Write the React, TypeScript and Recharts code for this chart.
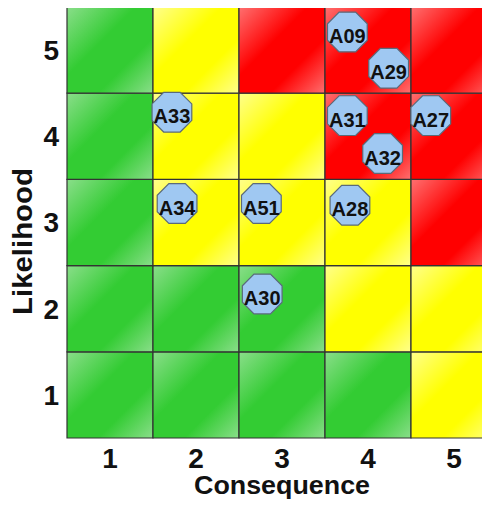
import React from "react";
import { Label, ReferenceArea, Scatter, ScatterChart, XAxis, YAxis } from "recharts";

const CONSEQUENCE_TICKS = [1, 2, 3, 4, 5];
const LIKELIHOOD_TICKS = [1, 2, 3, 4, 5];

// zone of each cell, consequence 1..5, one array per likelihood row
const ROW_L1 = ["green", "green", "green", "green", "yellow"];
const ROW_L2 = ["green", "green", "green", "yellow", "yellow"];
const ROW_L3 = ["green", "yellow", "yellow", "yellow", "red"];
const ROW_L4 = ["green", "yellow", "yellow", "red", "red"];
const ROW_L5 = ["green", "yellow", "red", "red", "red"];
const ZONE_ROWS = [ROW_L1, ROW_L2, ROW_L3, ROW_L4, ROW_L5];

const RISK_IDS = ["A09", "A29", "A31", "A27", "A32", "A28", "A51", "A33", "A34", "A30"];
const RISK_CONSEQUENCE = [3.76, 4.24, 3.76, 4.73, 4.17, 3.79, 2.76, 1.72, 1.78, 2.77];
const RISK_LIKELIHOOD = [5.21, 4.79, 4.24, 4.24, 3.8, 3.2, 3.22, 4.28, 3.22, 2.17];

const ZONE_COLORS: Record<string, [string, string]> = {
	green: ["#8ade8a", "#33cc33"],
	yellow: ["#ffff8c", "#ffff00"],
	red: ["#ff7070", "#ff0000"],
};

const FONT = "'Liberation Sans', Arial, sans-serif";

const risks = RISK_IDS.map((id, i) => ({
	id,
	x: RISK_CONSEQUENCE[i],
	y: RISK_LIKELIHOOD[i],
}));

function Octagon(props: any) {
	const { cx, cy, payload } = props;
	const r = 21.5;
	const pts: string[] = [];
	for (let k = 0; k < 8; k++) {
		const a = ((22.5 + k * 45) * Math.PI) / 180;
		pts.push(`${cx + r * Math.cos(a)},${cy + r * Math.sin(a)}`);
	}
	return (
		<g>
			<polygon points={pts.join(" ")} fill="#9fc8f2" stroke="#5a6a7a" strokeWidth={1.2} />
			<text
				x={cx}
				y={cy + 11}
				textAnchor="middle"
				fontFamily={FONT}
				fontWeight="bold"
				fontSize={20}
				fill="#111"
			>
				{payload.id}
			</text>
		</g>
	);
}

export default function App() {
	return (
		<div style={{ margin: -8, width: 490, height: 508, overflow: "hidden", background: "#fff" }}>
			<ScatterChart width={500} height={508} margin={{ top: 7, right: 3, bottom: 0, left: 0 }}>
				<defs>
					{Object.entries(ZONE_COLORS).map(([name, [light, dark]]) => (
						<linearGradient key={name} id={`zone-${name}`} x1="0" y1="0" x2="1" y2="1">
							<stop offset="0" stopColor={light} />
							<stop offset="0.4" stopColor={dark} />
							<stop offset="0.68" stopColor={dark} />
							<stop offset="1" stopColor={light} />
						</linearGradient>
					))}
				</defs>
				<XAxis
					type="number"
					dataKey="x"
					domain={[0.5, 5.5]}
					ticks={CONSEQUENCE_TICKS}
					axisLine={false}
					tickLine={false}
					tickSize={0}
					tickMargin={10}
					height={70}
					tick={{ fontSize: 28, fontWeight: "bold", fill: "#111", fontFamily: FONT }}
				>
					<Label
						content={(p: any) => {
							const vb = p.viewBox;
							return (
								<text
									x={vb.x + vb.width / 2}
									y={vb.y + 56}
									textAnchor="middle"
									fontFamily={FONT}
									fontWeight="bold"
									fontSize={25}
									fill="#111"
									textLength={176}
									lengthAdjust="spacingAndGlyphs"
								>
									Consequence
								</text>
							);
						}}
					/>
				</XAxis>
				<YAxis
					type="number"
					dataKey="y"
					domain={[0.5, 5.5]}
					ticks={LIKELIHOOD_TICKS}
					axisLine={false}
					tickLine={false}
					tickSize={0}
					tickMargin={8}
					width={67}
					tick={{ fontSize: 28, fontWeight: "bold", fill: "#111", fontFamily: FONT }}
				>
					<Label
						content={(p: any) => {
							const vb = p.viewBox;
							const cx = 32;
							const cy = vb.y + vb.height / 2 + 19;
							return (
								<text
									x={cx}
									y={cy}
									textAnchor="middle"
									transform={`rotate(-90, ${cx}, ${cy})`}
									fontFamily={FONT}
									fontWeight="bold"
									fontSize={27}
									fill="#111"
									textLength={147}
									lengthAdjust="spacingAndGlyphs"
								>
									Likelihood
								</text>
							);
						}}
					/>
				</YAxis>
				{ZONE_ROWS.map((row, li) =>
					row.map((zone, ci) => (
						<ReferenceArea
							key={`${li}-${ci}`}
							x1={CONSEQUENCE_TICKS[ci] - 0.5}
							x2={CONSEQUENCE_TICKS[ci] + 0.5}
							y1={LIKELIHOOD_TICKS[li] - 0.5}
							y2={LIKELIHOOD_TICKS[li] + 0.5}
							fill={`url(#zone-${zone})`}
							fillOpacity={1}
							stroke="#333"
							strokeWidth={1.2}
						/>
					)),
				)}
				<Scatter data={risks} shape={Octagon} isAnimationActive={false} />
			</ScatterChart>
		</div>
	);
}
